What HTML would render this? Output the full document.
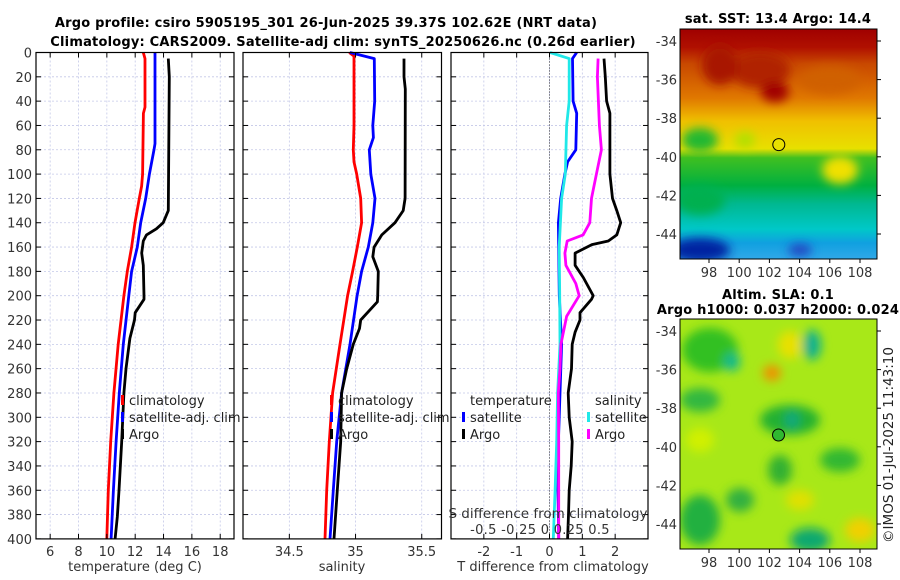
<!DOCTYPE html>
<html><head><meta charset="utf-8">
<style>
html,body{margin:0;padding:0;background:#fff;}
svg{display:block;font-family:"DejaVu Sans","Liberation Sans",sans-serif;}
.t{font-size:13px;fill:#333;}
.l{font-size:13px;fill:#222;}
.b{font-size:13px;font-weight:bold;fill:#000;letter-spacing:0.2px;}
</style></head>
<body>
<svg id="c" width="900" height="580" viewBox="0 0 900 580">
<defs>
<filter id="bl" x="-20%" y="-20%" width="140%" height="140%"><feGaussianBlur stdDeviation="5"/></filter>
<clipPath id="m1"><rect x="680" y="29" width="197" height="230"/></clipPath>
<clipPath id="m2"><rect x="680" y="319" width="197" height="230"/></clipPath>
<linearGradient id="sst" x1="0" y1="0" x2="0" y2="1">
<stop offset="0" stop-color="#a00000"/><stop offset="0.08" stop-color="#b01000"/>
<stop offset="0.15" stop-color="#c84800"/><stop offset="0.3" stop-color="#e07800"/>
<stop offset="0.4" stop-color="#f0c000"/><stop offset="0.52" stop-color="#e8e000"/>
<stop offset="0.56" stop-color="#40c020"/><stop offset="0.68" stop-color="#00b040"/>
<stop offset="0.76" stop-color="#00b890"/><stop offset="0.87" stop-color="#00c8c8"/>
<stop offset="0.93" stop-color="#10a0e0"/><stop offset="1" stop-color="#30a8e8"/>
</linearGradient>
</defs>
<text class="b" x="326" y="27" text-anchor="middle">Argo profile: csiro 5905195_301 26-Jun-2025 39.37S 102.62E (NRT data)</text>
<text class="b" x="343" y="46" text-anchor="middle">Climatology: CARS2009. Satellite-adj clim: synTS_20250626.nc (0.26d earlier)</text>
<g id="grid"></g>
<g id="lines"></g>
<g id="frames"></g>
<g id="maps">
 <g clip-path="url(#m1)">
  <rect x="680" y="29" width="197" height="230" fill="url(#sst)"/>
  <g filter="url(#bl)">
   <ellipse cx="760" cy="70" rx="30" ry="18" fill="#b02000"/>
   <ellipse cx="720" cy="65" rx="18" ry="20" fill="#a81800"/>
   <ellipse cx="775" cy="92" rx="14" ry="10" fill="#a00000"/>
   <ellipse cx="830" cy="80" rx="30" ry="14" fill="#d06000"/>
   <ellipse cx="700" cy="140" rx="18" ry="12" fill="#20b830"/>
   <ellipse cx="745" cy="140" rx="10" ry="8" fill="#b0e000"/>
   <ellipse cx="840" cy="170" rx="18" ry="14" fill="#f0e000"/>
   <ellipse cx="700" cy="200" rx="25" ry="15" fill="#00b050"/>
   <ellipse cx="700" cy="250" rx="30" ry="12" fill="#0020a0"/>
   <ellipse cx="800" cy="250" rx="12" ry="6" fill="#2040c0"/>
  </g>
 </g>
 <rect x="680" y="29" width="197" height="230" fill="none" stroke="#000"/>
 <circle cx="778.8" cy="144.6" r="6" fill="#e8e000" stroke="#000"/>
 <text class="b" x="778" y="23" text-anchor="middle">sat. SST: 13.4 Argo: 14.4</text>
 <g clip-path="url(#m2)">
  <rect x="680" y="319" width="197" height="230" fill="#a8e818"/>
  <g filter="url(#bl)">
   <ellipse cx="710" cy="350" rx="28" ry="22" fill="#30c020"/>
   <ellipse cx="732" cy="362" rx="8" ry="9" fill="#10b890"/>
   <ellipse cx="812" cy="345" rx="9" ry="15" fill="#10b090"/>
   <ellipse cx="772" cy="373" rx="9" ry="8" fill="#f09000"/>
   <ellipse cx="790" cy="345" rx="12" ry="14" fill="#e8e000"/>
   <ellipse cx="700" cy="400" rx="20" ry="12" fill="#30b840"/>
   <ellipse cx="790" cy="420" rx="30" ry="15" fill="#20b030"/>
   <ellipse cx="792" cy="420" rx="7" ry="9" fill="#10a880"/>
   <ellipse cx="840" cy="460" rx="20" ry="12" fill="#30b830"/>
   <ellipse cx="780" cy="470" rx="12" ry="15" fill="#30b030"/>
   <ellipse cx="700" cy="520" rx="20" ry="25" fill="#20b040"/>
   <ellipse cx="740" cy="500" rx="14" ry="12" fill="#30b040"/>
   <ellipse cx="810" cy="540" rx="20" ry="12" fill="#10a870"/>
   <ellipse cx="860" cy="530" rx="15" ry="12" fill="#f0d000"/>
   <ellipse cx="700" cy="440" rx="14" ry="12" fill="#d0f000"/>
   <ellipse cx="800" cy="500" rx="14" ry="10" fill="#e0e000"/>
  </g>
 </g>
 <rect x="680" y="319" width="197" height="230" fill="none" stroke="#000"/>
 <circle cx="778.5" cy="435" r="6" fill="#30b830" stroke="#000"/>
 <text class="b" x="778" y="299" text-anchor="middle">Altim. SLA: 0.1</text>
 <text class="b" x="778" y="314" text-anchor="middle">Argo h1000: 0.037 h2000: 0.024</text>
 <text class="l" x="893" y="445" text-anchor="middle" transform="rotate(-90 893 445)" style="font-size:13.5px">©IMOS 01-Jul-2025 11:43:10</text>
</g>
<g id="legends">
 <rect x="121" y="395" width="3" height="10" fill="#f00"/>
 <text class="l" x="129" y="405">climatology</text>
 <rect x="121" y="412" width="3" height="10" fill="#00f"/>
 <text class="l" x="129" y="422">satellite-adj. clim</text>
 <rect x="121" y="429" width="3" height="10" fill="#000"/>
 <text class="l" x="129" y="439">Argo</text>
 <rect x="330" y="395" width="3" height="10" fill="#f00"/>
 <text class="l" x="338" y="405">climatology</text>
 <rect x="330" y="412" width="3" height="10" fill="#00f"/>
 <text class="l" x="338" y="422">satellite-adj. clim</text>
 <rect x="330" y="429" width="3" height="10" fill="#000"/>
 <text class="l" x="338" y="439">Argo</text>
 <rect x="462" y="412" width="3" height="10" fill="#00f"/>
 <rect x="462" y="429" width="3" height="10" fill="#000"/>
 <text class="l" x="470" y="405">temperature</text>
 <text class="l" x="470" y="422">satellite</text>
 <text class="l" x="470" y="439">Argo</text>
 <rect x="587" y="412" width="3" height="10" fill="#20e8e8"/>
 <rect x="587" y="429" width="3" height="10" fill="#f0f"/>
 <text class="l" x="595" y="405">salinity</text>
 <text class="l" x="595" y="422">satellite</text>
 <text class="l" x="595" y="439">Argo</text>
 <text class="t" x="548" y="518" text-anchor="middle" style="font-size:13.5px">S difference from climatology</text>
 <text class="t" x="540" y="534" text-anchor="middle" style="letter-spacing:0.3px">-0.5 -0.25  0  0.25  0.5</text>
</g>
<text class="t" x="135" y="571" text-anchor="middle">temperature (deg C)</text>
<text class="t" x="342" y="571" text-anchor="middle">salinity</text>
<text class="t" x="553" y="571" text-anchor="middle">T difference from climatology</text>
</svg>
<script>
// ---- data ----
const depthTicks=[0,20,40,60,80,100,120,140,160,180,200,220,240,260,280,300,320,340,360,380,400];
const tempTicks=[6,8,10,12,14,16,18];
const salTicks=[34.5,35,35.5];
const salTickLabels=["34.5","35","35.5"];
const diffTicks=[-2,-1,0,1,2];
const lonTicks=[98,100,102,104,106,108];
const latTicks=[-34,-36,-38,-40,-42,-44];

const climTDepth=[0,5,45,50,100,110,120,140,160,180,200,240,280,320,360,400];
const climT=[12.57,12.69,12.69,12.58,12.52,12.45,12.29,11.99,11.75,11.44,11.2,10.8,10.5,10.27,10.1,10.0];
const satTDepth=[0,75,80,100,120,140,160,180,200,240,280,320,360,400];
const satT=[13.4,13.4,13.33,13.0,12.74,12.39,12.15,11.75,11.55,11.16,10.88,10.65,10.46,10.3];
const argoTDepth=[5,20,130,140,145,150,155,165,175,200,203,214,220,235,242,260,280,320,360,382,400];
const argoT=[14.34,14.41,14.34,13.98,13.5,12.8,12.57,12.46,12.57,12.62,12.62,12.0,11.95,11.63,11.55,11.35,11.2,11.05,10.86,10.74,10.58];

const climSDepth=[0,3,60,80,90,100,120,140,160,180,200,240,280,320,360,400];
const climS=[34.953,34.988,34.988,34.983,34.988,35.009,35.039,35.046,35.013,34.978,34.94,34.883,34.827,34.802,34.782,34.769];
const satSDepth=[0,5,40,60,70,80,100,120,140,160,180,200,240,280,320,360,400];
const satS=[34.958,35.142,35.145,35.13,35.135,35.104,35.115,35.147,35.13,35.096,35.046,35.012,34.958,34.895,34.858,34.832,34.807];
const argoSDepth=[5,20,30,120,130,140,150,160,168,180,200,205,220,227,240,260,280,320,360,400];
const argoS=[35.366,35.366,35.376,35.374,35.36,35.298,35.198,35.14,35.13,35.172,35.167,35.165,35.039,35.03,34.983,34.933,34.895,34.888,34.862,34.837];

const dSatTDepth=[0,5,40,50,80,90,100,120,140,200,240,280,320,360,400];
const dSatT=[0.83,0.70,0.72,0.83,0.8,0.55,0.47,0.34,0.27,0.3,0.37,0.32,0.27,0.26,0.28];
const dSatSDepth=[0,5,40,60,100,120,160,200,240,280,320,360,400];
const dSatS=[0.004,0.15,0.15,0.13,0.12,0.092,0.074,0.078,0.08,0.062,0.055,0.043,0.029];
const dArgoSDepth=[5,20,60,80,100,120,140,150,155,165,175,190,200,217,220,240,260,280,320,360,400];
const dArgoS=[0.37,0.365,0.38,0.395,0.357,0.32,0.307,0.256,0.135,0.117,0.125,0.2,0.226,0.13,0.125,0.087,0.08,0.067,0.07,0.07,0.07];
const dArgoTDepth=[5,20,40,50,100,120,130,140,150,155,158,165,175,185,200,203,214,220,230,240,260,280,300,320,340,360,380,400];
const dArgoT=[1.66,1.7,1.74,1.84,1.84,1.92,2.05,2.17,2.05,1.79,1.29,0.78,0.78,1.03,1.33,1.28,0.93,0.93,0.78,0.69,0.67,0.57,0.6,0.69,0.66,0.6,0.58,0.55];

// ---- axes ----
const Y=d=>52.5+d*1.216;
const XT=t=>36+(t-5)*14.17;
const XS=s=>243+(s-34.15)*132.4;
const XD=v=>549.5+v*32.83;
const XDS=v=>549.5+v*131.3;
const LON=l=>709+(l-98)*15.1;
const LAT=l=>41+(-34-l)*19.3;
const panels=[{x0:36,x1:234,name:'temperature'},{x0:243,x1:441.5,name:'salinity'},{x0:451,x1:648,name:'difference'}];
const NS='http://www.w3.org/2000/svg';
function mk(tag,parent,attrs){const e=document.createElementNS(NS,tag);for(const k in attrs)e.setAttribute(k,attrs[k]);parent.appendChild(e);return e;}
const svg=document.getElementById('c');
const grid=document.getElementById('grid'),lines=document.getElementById('lines'),frames=document.getElementById('frames');

panels.forEach((p,i)=>{
  depthTicks.forEach(d=>{
    if(d>0&&d<400){const g=mk('line',grid,{x1:p.x0,x2:p.x1,y1:Y(d),y2:Y(d),stroke:'#c4c8e8','stroke-width':0.8,'stroke-dasharray':'2,2'});
    
    }
    const t1=mk('line',frames,{x1:p.x0,x2:p.x0+5,y1:Y(d),y2:Y(d),stroke:'#000'});
    
    
    const t2=mk('line',frames,{x1:p.x1-5,x2:p.x1,y1:Y(d),y2:Y(d),stroke:'#000'});
    
    
  });
  const f=mk('rect',frames,{x:p.x0,y:Y(0),width:p.x1-p.x0,height:Y(400)-Y(0),fill:'none',stroke:'#000','stroke-width':1.2});
  
  
});
depthTicks.forEach(d=>{
  const t=mk('text',svg,{x:32,y:Y(d)+5,'text-anchor':'end',class:'t'});t.textContent=d;
  
  
});
function xticks(ticks,labels,fx,name){
  ticks.forEach((v,i)=>{
    const x=fx(v);
    const g=mk('line',grid,{x1:x,x2:x,y1:Y(0),y2:Y(400),stroke:'#c4c8e8','stroke-width':0.8,'stroke-dasharray':'2,2'});
    
    
    const tk=mk('line',frames,{x1:x,x2:x,y1:Y(400)-5,y2:Y(400),stroke:'#000'});
    
    
    const tt=mk('line',frames,{x1:x,x2:x,y1:Y(0),y2:Y(0)+5,stroke:'#000'});
    
    
    const t=mk('text',svg,{x:x,y:556,'text-anchor':'middle',class:'t'});t.textContent=labels[i];
    
    
  });
}
xticks(tempTicks,tempTicks.map(String),XT,'temperature');
xticks(salTicks,salTickLabels,XS,'salinity');
xticks(diffTicks,diffTicks.map(String),XD,'t-diff');
const z=mk('line',grid,{x1:XD(0),x2:XD(0),y1:Y(0),y2:Y(400),stroke:'#333','stroke-width':1,'stroke-dasharray':'1,2'});



function series(depths,vals,fx,color,name){
  const pts=depths.map((d,i)=>fx(vals[i]).toFixed(1)+','+Y(d).toFixed(1)).join(' ');
  const pl=mk('polyline',lines,{points:pts,fill:'none',stroke:color,'stroke-width':2.8,'stroke-linejoin':'round'});
  
  
}
series(climTDepth,climT,XT,'#ff0000','climatology-temperature-line');
series(satTDepth,satT,XT,'#0000ff','satellite-temperature-line');
series(argoTDepth,argoT,XT,'#000000','argo-temperature-line');
series(climSDepth,climS,XS,'#ff0000','climatology-salinity-line');
series(satSDepth,satS,XS,'#0000ff','satellite-salinity-line');
series(argoSDepth,argoS,XS,'#000000','argo-salinity-line');
series(dSatTDepth,dSatT,XD,'#0000ff','satellite-t-diff-line');
series(dSatSDepth,dSatS,XDS,'#20e8e8','satellite-s-diff-line');
series(dArgoSDepth,dArgoS,XDS,'#ff00ff','argo-s-diff-line');
series(dArgoTDepth,dArgoT,XD,'#000000','argo-t-diff-line');

// map axes
[[29,259,277],[319,549,567]].forEach((m,mi)=>{
  const off=mi?290:0;
  lonTicks.forEach(l=>{
    const x=LON(l);
    const tk=mk('line',svg,{x1:x,x2:x,y1:m[1],y2:m[1]+4,stroke:'#000'});
    
    
    const t=mk('text',svg,{x:x,y:m[2],'text-anchor':'middle',class:'t'});t.textContent=l;
    
    
  });
  latTicks.forEach(l=>{
    const y=LAT(l)+off;
    const tk=mk('line',svg,{x1:877,x2:881,y1:y,y2:y,stroke:'#000'});
    
    
    const t=mk('text',svg,{x:677,y:y+5,'text-anchor':'end',class:'t'});t.textContent=l;
    
    
  });
});
</script>
</body></html>
